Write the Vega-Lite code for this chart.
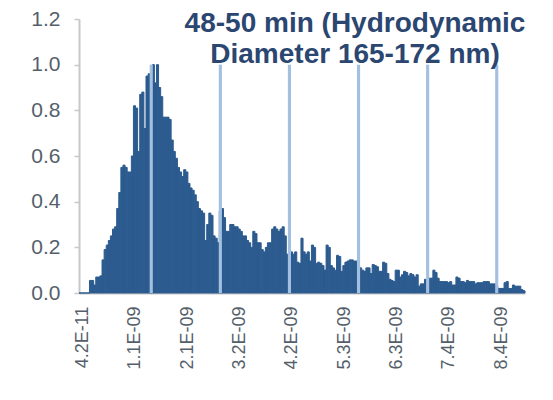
{
  "$schema": "https://vega.github.io/schema/vega-lite/v6.json",
  "width": 446,
  "height": 274,
  "autosize": "none",
  "padding": {"left": 79, "top": 19, "right": 28, "bottom": 107},
  "background": "white",
  "config": {"view": {"stroke": null}, "font": "Liberation Sans"},
  "title": {
    "text": ["48-50 min (Hydrodynamic", "Diameter 165-172 nm)"],
    "fontSize": 28,
    "fontWeight": "bold",
    "color": "#2b4670",
    "anchor": "middle",
    "baseline": "top",
    "lineHeight": 31,
    "offset": 0,
    "dx": 53,
    "dy": 61
  },
  "datasets": {
    "counts": [
      {"bin":1,"freq":0},{"bin":2,"freq":0},{"bin":3,"freq":0},{"bin":4,"freq":0},{"bin":5,"freq":0},
      {"bin":6,"freq":0.055},{"bin":7,"freq":0.055},{"bin":8,"freq":0.035},{"bin":9,"freq":0.07},{"bin":10,"freq":0.07},
      {"bin":11,"freq":0.075},{"bin":12,"freq":0.145},{"bin":13,"freq":0.19},{"bin":14,"freq":0.21},{"bin":15,"freq":0.23},
      {"bin":16,"freq":0.25},{"bin":17,"freq":0.28},{"bin":18,"freq":0.29},{"bin":19,"freq":0.37},{"bin":20,"freq":0.44},
      {"bin":21,"freq":0.55},{"bin":22,"freq":0.56},{"bin":23,"freq":0.55},{"bin":24,"freq":0.53},{"bin":25,"freq":0.53},
      {"bin":26,"freq":0.60},{"bin":27,"freq":0.82},{"bin":28,"freq":0.81},{"bin":29,"freq":0.62},{"bin":30,"freq":0.87},
      {"bin":31,"freq":0.88},{"bin":32,"freq":0.72},{"bin":33,"freq":0.95},{"bin":34,"freq":0.96},{"bin":35,"freq":0.93},
      {"bin":36,"freq":1.0},{"bin":37,"freq":0.92},{"bin":38,"freq":1.0},{"bin":39,"freq":0.9},{"bin":40,"freq":0.86},
      {"bin":41,"freq":0.77},{"bin":42,"freq":0.77},{"bin":43,"freq":0.77},{"bin":44,"freq":0.76},{"bin":45,"freq":0.67},
      {"bin":46,"freq":0.62},{"bin":47,"freq":0.59},{"bin":48,"freq":0.55},{"bin":49,"freq":0.53},{"bin":50,"freq":0.51},
      {"bin":51,"freq":0.54},{"bin":52,"freq":0.53},{"bin":53,"freq":0.48},{"bin":54,"freq":0.46},{"bin":55,"freq":0.45},
      {"bin":56,"freq":0.43},{"bin":57,"freq":0.40},{"bin":58,"freq":0.37},{"bin":59,"freq":0.36},{"bin":60,"freq":0.35},
      {"bin":61,"freq":0.23},{"bin":62,"freq":0.30},{"bin":63,"freq":0.35},{"bin":64,"freq":0.34},{"bin":65,"freq":0.25},
      {"bin":66,"freq":0.24},{"bin":67,"freq":0.22},{"bin":68,"freq":0.36},{"bin":69,"freq":0.37},{"bin":70,"freq":0.33},
      {"bin":71,"freq":0.27},{"bin":72,"freq":0.27},{"bin":73,"freq":0.30},{"bin":74,"freq":0.30},{"bin":75,"freq":0.29},
      {"bin":76,"freq":0.29},{"bin":77,"freq":0.28},{"bin":78,"freq":0.27},{"bin":79,"freq":0.25},{"bin":80,"freq":0.25},
      {"bin":81,"freq":0.23},{"bin":82,"freq":0.22},{"bin":83,"freq":0.20},{"bin":84,"freq":0.27},{"bin":85,"freq":0.26},
      {"bin":86,"freq":0.22},{"bin":87,"freq":0.22},{"bin":88,"freq":0.19},{"bin":89,"freq":0.18},{"bin":90,"freq":0.20},
      {"bin":91,"freq":0.22},{"bin":92,"freq":0.22},{"bin":93,"freq":0.28},{"bin":94,"freq":0.29},{"bin":95,"freq":0.28},
      {"bin":96,"freq":0.27},{"bin":97,"freq":0.28},{"bin":98,"freq":0.29},{"bin":99,"freq":0.25},{"bin":100,"freq":0.17},
      {"bin":101,"freq":0.17},{"bin":102,"freq":0.18},{"bin":103,"freq":0.17},{"bin":104,"freq":0.18},{"bin":105,"freq":0.135},
      {"bin":106,"freq":0.13},{"bin":107,"freq":0.24},{"bin":108,"freq":0.18},{"bin":109,"freq":0.17},{"bin":110,"freq":0.18},
      {"bin":111,"freq":0.14},{"bin":112,"freq":0.21},{"bin":113,"freq":0.20},{"bin":114,"freq":0.13},{"bin":115,"freq":0.135},
      {"bin":116,"freq":0.13},{"bin":117,"freq":0.12},{"bin":118,"freq":0.10},{"bin":119,"freq":0.21},{"bin":120,"freq":0.20},
      {"bin":121,"freq":0.12},{"bin":122,"freq":0.11},{"bin":123,"freq":0.10},{"bin":124,"freq":0.165},{"bin":125,"freq":0.16},
      {"bin":126,"freq":0.095},{"bin":127,"freq":0.12},{"bin":128,"freq":0.135},{"bin":129,"freq":0.14},{"bin":130,"freq":0.145},
      {"bin":131,"freq":0.145},{"bin":132,"freq":0.14},{"bin":133,"freq":0.14},{"bin":134,"freq":0.12},{"bin":135,"freq":0.11},
      {"bin":136,"freq":0.10},{"bin":137,"freq":0.095},{"bin":138,"freq":0.11},{"bin":139,"freq":0.11},{"bin":140,"freq":0.085},
      {"bin":141,"freq":0.125},{"bin":142,"freq":0.12},{"bin":143,"freq":0.115},{"bin":144,"freq":0.095},{"bin":145,"freq":0.095},
      {"bin":146,"freq":0.135},{"bin":147,"freq":0.13},{"bin":148,"freq":0.085},{"bin":149,"freq":0.06},{"bin":150,"freq":0.055},
      {"bin":151,"freq":0.05},{"bin":152,"freq":0.10},{"bin":153,"freq":0.10},{"bin":154,"freq":0.07},{"bin":155,"freq":0.08},
      {"bin":156,"freq":0.095},{"bin":157,"freq":0.09},{"bin":158,"freq":0.075},{"bin":159,"freq":0.085},{"bin":160,"freq":0.08},
      {"bin":161,"freq":0.07},{"bin":162,"freq":0.08},{"bin":163,"freq":0.03},{"bin":164,"freq":0.04},{"bin":165,"freq":0.04},
      {"bin":166,"freq":0.06},{"bin":167,"freq":0.05},{"bin":168,"freq":0.065},{"bin":169,"freq":0.065},{"bin":170,"freq":0.10},
      {"bin":171,"freq":0.09},{"bin":172,"freq":0.065},{"bin":173,"freq":0.05},{"bin":174,"freq":0.05},{"bin":175,"freq":0.05},
      {"bin":176,"freq":0.05},{"bin":177,"freq":0.045},{"bin":178,"freq":0.05},{"bin":179,"freq":0.035},{"bin":180,"freq":0.035},
      {"bin":181,"freq":0.07},{"bin":182,"freq":0.065},{"bin":183,"freq":0.05},{"bin":184,"freq":0.05},{"bin":185,"freq":0.045},
      {"bin":186,"freq":0.055},{"bin":187,"freq":0.05},{"bin":188,"freq":0.05},{"bin":189,"freq":0.05},{"bin":190,"freq":0.04},
      {"bin":191,"freq":0.045},{"bin":192,"freq":0.045},{"bin":193,"freq":0.045},{"bin":194,"freq":0.05},{"bin":195,"freq":0.05},
      {"bin":196,"freq":0.05},{"bin":197,"freq":0.04},{"bin":198,"freq":0.04},{"bin":199,"freq":0.04},{"bin":200,"freq":0.03},
      {"bin":201,"freq":0.02},{"bin":202,"freq":0.02},{"bin":203,"freq":0.02},{"bin":204,"freq":0.045},{"bin":205,"freq":0.05},
      {"bin":206,"freq":0.02},{"bin":207,"freq":0.02},{"bin":208,"freq":0.035},{"bin":209,"freq":0.03},{"bin":210,"freq":0.03},
      {"bin":211,"freq":0.03},{"bin":212,"freq":0.015},{"bin":213,"freq":0.01}
    ],
    "markers": [
      {"bin":35,"freq":1.0},{"bin":68,"freq":1.0},{"bin":101,"freq":1.0},
      {"bin":134,"freq":1.0},{"bin":167,"freq":1.0},{"bin":200,"freq":1.0}
    ]
  },
  "layer": [
    {
      "data": {"name": "counts"},
      "mark": {"type": "bar", "color": "#2c5b8f", "stroke": "#2c5b8f", "strokeWidth": 1},
      "encoding": {
        "x": {
          "field": "bin",
          "type": "ordinal",
          "scale": {"paddingInner": 0, "paddingOuter": 0},
          "axis": {
            "title": null,
            "values": [1, 26, 51, 76, 101, 126, 151, 176, 201],
            "labelExpr": "['4.2E-11','1.1E-09','2.1E-09','3.2E-09','4.2E-09','5.3E-09','6.3E-09','7.4E-09','8.4E-09'][(datum.value - 1) / 25]",
            "labelAngle": -90,
            "labelFontSize": 18,
            "labelColor": "#555f6b",
            "labelPadding": 13,
            "labelOffset": 3,
            "ticks": false,
            "grid": false,
            "domainColor": "#c8c8c8",
            "domainWidth": 2
          }
        },
        "y": {
          "field": "freq",
          "type": "quantitative",
          "scale": {"domain": [0, 1.2], "nice": false},
          "axis": {
            "title": null,
            "values": [0, 0.2, 0.4, 0.6, 0.8, 1.0, 1.2],
            "format": ".1f",
            "labelFontSize": 21,
            "labelColor": "#555f6b",
            "labelPadding": 14,
            "tickSize": 5,
            "tickColor": "#c8c8c8",
            "tickWidth": 1.5,
            "domainColor": "#c8c8c8",
            "domainWidth": 2,
            "grid": false
          }
        }
      }
    },
    {
      "data": {"name": "markers"},
      "mark": {"type": "bar", "color": "#a3c0e0", "width": {"band": 1.5}},
      "encoding": {
        "x": {"field": "bin", "type": "ordinal"},
        "y": {"field": "freq", "type": "quantitative"}
      }
    }
  ]
}
